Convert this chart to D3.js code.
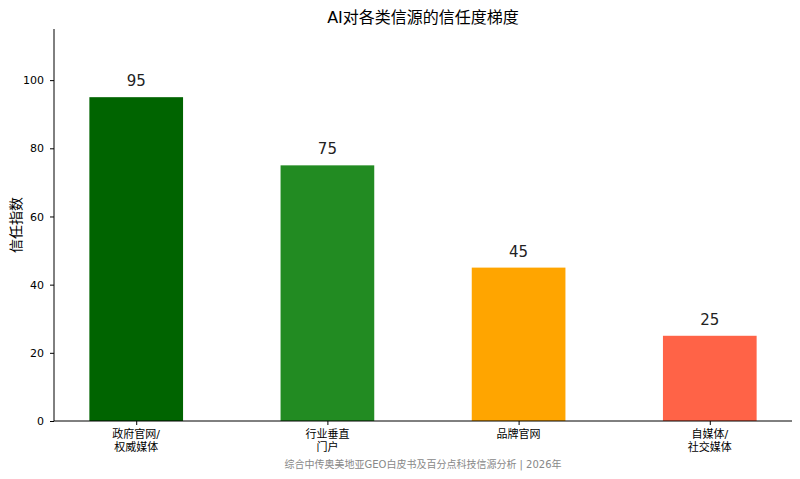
<!DOCTYPE html>
<html><head><meta charset="utf-8">
<script src="https://cdn.jsdelivr.net/npm/d3@7"></script>
<style>body{margin:0;background:#fff}text{font-family:"DejaVu Sans","Noto Sans CJK SC",sans-serif}</style>
</head><body><svg id="c" width="800" height="479"></svg>
<script>
const categories = [["政府官网/","权威媒体"],["行业垂直","门户"],["品牌官网"],["自媒体/","社交媒体"]];
const values = [95, 75, 45, 25];
const colors = ["#006400","#228B22","#FFA500","#FF6347"];
const yTicks = [0,20,40,60,80,100];
const title = "AI对各类信源的信任度梯度";
const yLabel = "信任指数";
const source = "综合中传奥美地亚GEO白皮书及百分点科技信源分析 | 2026年";

const svg = d3.select("#c");
const L=54,R=792,T=29,B=421;
const x = d3.scaleLinear().domain([-0.43,3.43]).range([L,R]);
const y = d3.scaleLinear().domain([0,115]).range([B,T]);
const bw = x(0.49)-x(0);

svg.selectAll("rect.bar").data(values).join("rect")
  .attr("x",(d,i)=>x(i)-bw/2).attr("width",bw)
  .attr("y",d=>y(d)).attr("height",d=>B-y(d)).attr("fill",(d,i)=>colors[i]);
svg.selectAll("text.v").data(values).join("text")
  .attr("x",(d,i)=>x(i)).attr("y",d=>y(d)-11).attr("text-anchor","middle")
  .attr("font-size",15).attr("fill","#222").text(d=>d);

const ya = svg.append("g").attr("transform",`translate(${L},0)`)
  .call(d3.axisLeft(y).tickValues(yTicks).tickSize(4).tickPadding(6));
ya.selectAll("text").attr("font-size",11).attr("fill","#000");
ya.select(".domain").attr("d",`M0,${T}V${B}`);
const xa = svg.append("g").attr("transform",`translate(0,${B})`)
  .call(d3.axisBottom(x).tickValues([0,1,2,3]).tickSize(4).tickFormat(""));
xa.select(".domain").attr("d",`M${L},0H${R}`);
categories.forEach((c,i)=>{
  const t = svg.append("text").attr("x",x(i)).attr("y",B+17).attr("text-anchor","middle").attr("font-size",11);
  c.forEach((s,j)=>t.append("tspan").attr("x",x(i)).attr("dy",j?13:0).text(s));
});
svg.append("text").attr("x",423).attr("y",23).attr("text-anchor","middle").attr("font-size",16).text(title);
svg.append("text").attr("transform",`translate(21,${(T+B)/2}) rotate(-90)`).attr("text-anchor","middle").attr("font-size",14).text(yLabel);
svg.append("text").attr("x",423).attr("y",468).attr("text-anchor","middle").attr("font-size",10).attr("fill","#888").text(source);
</script></body></html>
